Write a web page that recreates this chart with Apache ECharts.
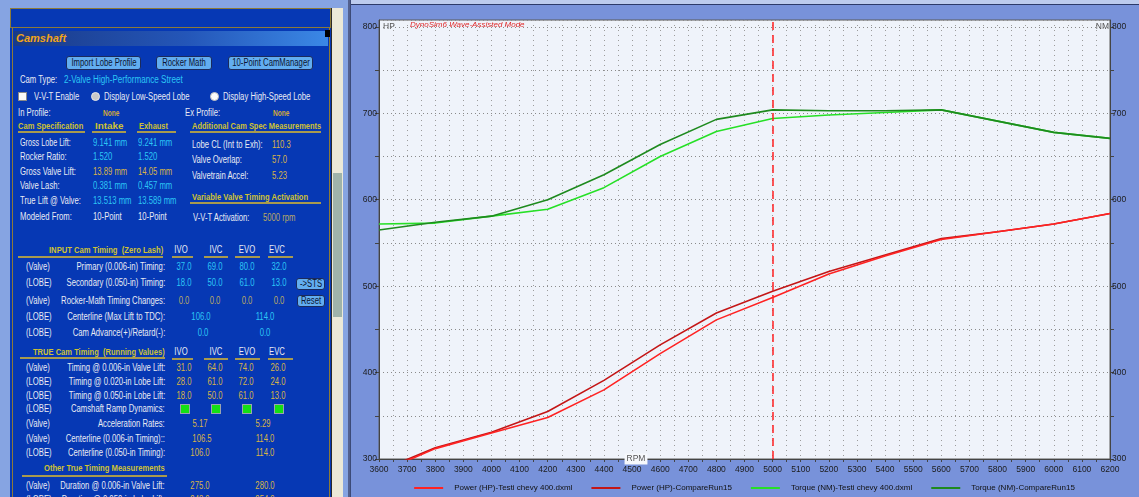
<!DOCTYPE html>
<html>
<head>
<meta charset="utf-8">
<script src="https://cdn.jsdelivr.net/npm/echarts@6/dist/echarts.min.js"></script>
<style>
  html, body { margin: 0; padding: 0; width: 1139px; height: 497px; overflow: hidden; background: #7f9fe0; font-family: 'Liberation Sans', Arial, sans-serif; }
  #panel { position: absolute; left: 0; top: 0; width: 350px; height: 497px; overflow: hidden; background: #86a4e2; }
  #chartWrap { position: absolute; left: 350px; top: 0; width: 789px; height: 497px; background: #7892da; }
  #chart { position: absolute; left: 0; top: 0; width: 789px; height: 497px; }
  .tx { position: absolute; white-space: pre; font-size: 10px; line-height: 14px; height: 14px; }
  .w { color: #e9ebf3; }
  .c { color: #2cc6f6; }
  .g { color: #d8b448; }
  .d { color: #b9a964; }
  .h { color: #cfc232; font-weight: bold; font-size: 9.5px; }
  .n { color: #cfa940; font-weight: bold; font-size: 8.5px; }
  .k { color: #0b1430; }
  .ttl { color: #f2a418; font-weight: bold; font-style: italic; font-size: 11px; }
</style>
</head>
<body>
<div id="panel"></div>
<div id="chartWrap">
  <div id="chart"></div>
  <div style="position:absolute;left:0;top:0;width:789px;height:4px;background:#bccbee;z-index:5"></div>
  <div style="position:absolute;left:0;top:4px;width:789px;height:1px;background:#2c3a6a;z-index:5"></div>
  <div style="position:absolute;left:0;top:0;width:1px;height:497px;background:#3c4a78;z-index:5"></div>
</div>
<script>
// ---------- dyno curves ----------
const rpm = [3600, 3800, 4000, 4200, 4400, 4600, 4800, 5000, 5200, 5400, 5600, 5800, 6000, 6200];
const powerTesti = [284, 312, 330, 348, 380, 422, 461, 487, 514, 535, 554, 563, 572, 584];
const powerCompare = [286, 313, 331, 355, 391, 432, 469, 494, 517, 536, 555, 563, 572, 584];
const torqueTesti = [572, 573, 581, 589, 614, 650, 679, 694, 698, 701, 704, 691, 678, 671];
const torqueCompare = [565, 574, 581, 600, 629, 664, 693, 704, 703, 703, 704, 691, 678, 671];
const seriesNames = ['Power (HP)-Testi chevy 400.dxml', 'Power (HP)-CompareRun15',
                     'Torque (NM)-Testi chevy 400.dxml', 'Torque (NM)-CompareRun15'];
const cursorRpm = 5000;
const rpmRange = [3600, 6200];
const valueRange = [300, 808];
const valueLabelMax = 800;

// ---------- camshaft panel ----------
const PW = 350;
const P = document.getElementById('panel');
function box(x, y, w, h, css) {
  const d = document.createElement('div');
  d.style.cssText = 'position:absolute;left:' + x + 'px;top:' + y + 'px;width:' + w + 'px;height:' + h + 'px;' + (css || '');
  P.appendChild(d);
  return d;
}
function txt(x, y, s, cls, align, w) {
  const d = document.createElement('div');
  d.className = 'tx ' + (cls || 'w');
  d.textContent = s;
  d.style.top = (y - 7) + 'px';
  P.appendChild(d);
  let sc = 0.77;
  if (cls === 'ttl') sc = 1;
  if (w) sc = w / d.offsetWidth;
  if (align === 'r') {
    d.style.right = (PW - x) + 'px';
    d.style.transformOrigin = '100% 50%';
    d.style.transform = 'scaleX(' + sc + ')';
  } else if (align === 'c') {
    d.style.left = x + 'px';
    d.style.transformOrigin = '0 50%';
    d.style.transform = 'scaleX(' + sc + ') translateX(-50%)';
  } else {
    d.style.left = x + 'px';
    d.style.transformOrigin = '0 50%';
    d.style.transform = 'scaleX(' + sc + ')';
  }
}
function uline(x1, x2, y) { box(x1, y, x2 - x1, 2, 'background:#a89a4e;'); }
function btn(x, y, w, h, s) {
  box(x, y, w, h, 'background:#62adf0;border:1px solid #1b2a5c;border-radius:3px;box-sizing:border-box;');
  txt(x + w / 2, y + h / 2, s, 'k', 'c');
}
function led(cx, cy) { box(cx - 5, cy - 5, 10, 10, 'background:#14e014;border:1px solid #9aa4b0;box-sizing:border-box;'); }

// frame
box(10, 8, 321, 489, 'background:#0638b4;');
box(10, 8, 321, 20, 'border:1px solid #8c7a38;box-sizing:border-box;');
box(12, 28, 1, 469, 'background:#8c7a38;');
box(329, 28, 1, 469, 'background:#8c7a38;');
box(14, 31, 314, 15, 'background:linear-gradient(to right,#1a3a88 0%,#2456b8 55%,#3b88e6 100%);');
box(325, 30, 5, 7, 'background:#000;');
// scrollbar
box(331, 8, 1, 489, 'background:#2a2a2a;');
box(332, 8, 11, 489, 'background:#ece9d8;');
box(333, 173, 9, 144, 'background:#9fb3aa;');
box(348, 0, 2, 497, 'background:#52608e;');

txt(16, 38, 'Camshaft', 'ttl');
btn(66, 56, 75, 14, 'Import Lobe Profile');
btn(156, 56, 56, 14, 'Rocker Math');
btn(228, 56, 85, 14, '10-Point CamManager');

txt(20, 80, 'Cam Type:', 'w');
txt(64, 80, '2-Valve High-Performance Street', 'c', 'l', 119);
box(18, 92, 9, 9, 'background:#f8f8f8;border:1px solid #8a8a8a;box-sizing:border-box;');
txt(34, 97, 'V-V-T Enable', 'w');
box(91, 92, 9, 9, 'background:#c8c8c8;border-radius:50%;border:1px solid #e8e8e8;box-sizing:border-box;');
txt(104, 97, 'Display Low-Speed Lobe', 'w');
box(210, 92, 9, 9, 'background:#fafafa;border-radius:50%;border:1px solid #c0c0c0;box-sizing:border-box;');
txt(223, 97, 'Display High-Speed Lobe', 'w');

txt(18, 113, 'In Profile:', 'w');
txt(103, 113, 'None', 'n');
txt(185, 113, 'Ex Profile:', 'w');
txt(273, 113, 'None', 'n');

txt(18, 126, 'Cam Specification', 'h', 'l', 65);
txt(95, 126, 'Intake', 'h', 'l', 28);
txt(139, 126, 'Exhaust', 'h', 'l', 29);
txt(192, 126, 'Additional Cam Spec Measurements', 'h', 'l', 129);
uline(18, 85, 131); uline(92, 126, 131); uline(137, 176, 131); uline(190, 321, 131);

txt(20, 143, 'Gross Lobe Lift:', 'w', 'l', 51);
txt(93, 143, '9.141 mm', 'c');
txt(138, 143, '9.241 mm', 'c');
txt(192, 145, 'Lobe CL (Int to Exh):', 'w');
txt(272, 145, '110.3', 'g');

txt(20, 157, 'Rocker Ratio:', 'w');
txt(93, 157, '1.520', 'c');
txt(138, 157, '1.520', 'c');
txt(192, 160, 'Valve Overlap:', 'w');
txt(272, 160, '57.0', 'g');

txt(20, 172, 'Gross Valve Lift:', 'w');
txt(93, 172, '13.89 mm', 'g');
txt(138, 172, '14.05 mm', 'g');
txt(192, 176, 'Valvetrain Accel:', 'w');
txt(272, 176, '5.23', 'g');

txt(20, 186, 'Valve Lash:', 'w');
txt(93, 186, '0.381 mm', 'c');
txt(138, 186, '0.457 mm', 'c');

txt(20, 201, 'True Lift @ Valve:', 'w');
txt(93, 201, '13.513 mm', 'c');
txt(138, 201, '13.589 mm', 'c');
txt(192, 197, 'Variable Valve Timing Activation', 'h', 'l', 116);
uline(190, 321, 202);

txt(20, 217, 'Modeled From:', 'w');
txt(93, 217, '10-Point', 'w');
txt(138, 217, '10-Point', 'w');
txt(193, 218, 'V-V-T Activation:', 'w');
txt(263, 218, '5000 rpm', 'd');

// INPUT cam timing block
const colA = [184, 215, 247, 279];
const colB = [201, 265];
function heads(y) {
  txt(181, y, 'IVO', 'w', 'c'); txt(216, y, 'IVC', 'w', 'c');
  txt(247, y, 'EVO', 'w', 'c'); txt(277, y, 'EVC', 'w', 'c');
  uline(172, 193, y + 6); uline(204, 228, y + 6); uline(235, 260, y + 6); uline(268, 293, y + 6);
}
function row(y, tag, label, vals, cls, cols) {
  txt(26, y, tag, 'w');
  txt(165, y, label, 'w', 'r');
  vals.forEach(function (v, i) { txt(cols[i], y, v, cls, 'c'); });
}
txt(49, 250, 'INPUT Cam Timing  (Zero Lash)', 'h', 'l', 114);
uline(18, 163, 256);
heads(250);
row(267, '(Valve)', 'Primary (0.006-in) Timing:', ['37.0', '69.0', '80.0', '32.0'], 'c', colA);
row(283, '(LOBE)', 'Secondary (0.050-in) Timing:', ['18.0', '50.0', '61.0', '13.0'], 'c', colA);
btn(296, 278, 29, 12, '->STS');
row(301, '(Valve)', 'Rocker-Math Timing Changes:', ['0.0', '0.0', '0.0', '0.0'], 'd', colA);
btn(297, 295, 28, 12, 'Reset');
row(317, '(LOBE)', 'Centerline (Max Lift to TDC):', ['106.0', '114.0'], 'c', colB);
row(333, '(LOBE)', 'Cam Advance(+)/Retard(-):', ['0.0', '0.0'], 'c', [203, 265]);

// TRUE cam timing block
txt(33, 352, 'TRUE Cam Timing  (Running Values)', 'h', 'l', 132);
uline(20, 165, 357);
heads(352);
const colC = [184, 215, 246, 278];
row(368, '(Valve)', 'Timing @ 0.006-in Valve Lift:', ['31.0', '64.0', '74.0', '26.0'], 'g', colC);
row(382, '(LOBE)', 'Timing @ 0.020-in Lobe Lift:', ['28.0', '61.0', '72.0', '24.0'], 'g', colC);
row(396, '(LOBE)', 'Timing @ 0.050-in Lobe Lift:', ['18.0', '50.0', '61.0', '13.0'], 'g', colC);
row(409, '(LOBE)', 'Camshaft Ramp Dynamics:', [], 'g', colC);
colC.forEach(function (cx) { led(cx + 1, 409); });
row(424, '(Valve)', 'Acceleration Rates:', ['5.17', '5.29'], 'g', [200, 263]);
row(439, '(Valve)', 'Centerline (0.006-in Timing)::', ['106.5', '114.0'], 'g', [202, 265]);
row(453, '(LOBE)', 'Centerline (0.050-in Timing):', ['106.0', '114.0'], 'g', [200, 265]);
txt(44, 468, 'Other True Timing Measurements', 'h', 'l', 121);
uline(22, 167, 475);
row(486, '(Valve)', 'Duration @ 0.006-in Valve Lift:', ['275.0', '280.0'], 'g', [200, 265]);
row(500, '(LOBE)', 'Duration @ 0.050-in Lobe Lift:', ['248.0', '254.0'], 'g', [200, 265]);

// ---------- dyno chart ----------
const chart = echarts.init(document.getElementById('chart'), null, { renderer: 'canvas' });
const pairs = function (vals) { return rpm.map(function (r, i) { return [r, vals[i]]; }); };
const dotted = { type: [1, 4], color: '#9c9c9c', width: 1 };
const tickFont = { fontSize: 8.5, color: '#1c1c1c', fontFamily: 'Liberation Sans, Arial, sans-serif' };
const yLabel = function (v) { return (v % 100 === 0 && v <= valueLabelMax) ? String(v) : ''; };
const lineSeries = function (name, vals, color, axis) {
  return {
    name: name, type: 'line', yAxisIndex: axis, data: pairs(vals),
    showSymbol: false, symbol: 'none', clip: true,
    lineStyle: { color: color, width: 1.6 }, itemStyle: { color: color }
  };
};
const sPowerCompare = lineSeries(seriesNames[1], powerCompare, '#c41616', 0);
const sPowerTesti = lineSeries(seriesNames[0], powerTesti, '#ff2222', 0);
sPowerTesti.markLine = {
  symbol: 'none', silent: true, label: { show: false },
  lineStyle: { color: '#ff2020', type: [8, 5], width: 1.5 },
  data: [{ xAxis: cursorRpm }]
};

chart.setOption({
  animation: false,
  grid: { left: 29, right: 29, top: 20, bottom: 38, show: true,
          backgroundColor: '#eff3fa', borderColor: '#5a5a5a', borderWidth: 1 },
  xAxis: {
    type: 'value', min: rpmRange[0], max: rpmRange[1], interval: 50,
    axisLine: { lineStyle: { color: '#444' } },
    axisTick: { length: 3, lineStyle: { color: '#444' } },
    axisLabel: Object.assign({ margin: 6, formatter: function (v) { return v % 100 === 0 ? String(v) : ''; } }, tickFont),
    splitLine: { show: true, lineStyle: dotted }
  },
  yAxis: [
    {
      type: 'value', position: 'left', min: valueRange[0], max: valueRange[1], interval: 50,
      axisLine: { show: true, lineStyle: { color: '#444' } },
      axisTick: { show: true, length: 4, lineStyle: { color: '#444' } },
      axisLabel: Object.assign({ margin: 2, formatter: yLabel, showMaxLabel: false }, tickFont),
      splitLine: { show: true, lineStyle: { type: [1, 3], color: '#8a8a8a', width: 1 } }
    },
    {
      type: 'value', position: 'right', min: valueRange[0], max: valueRange[1], interval: 50,
      axisLine: { show: true, lineStyle: { color: '#444' } },
      axisTick: { show: true, length: 4, lineStyle: { color: '#444' } },
      axisLabel: Object.assign({ margin: 2, formatter: yLabel, showMaxLabel: false }, tickFont),
      splitLine: { show: false }
    }
  ],
  legend: {
    data: seriesNames, top: 484, left: 'center', padding: 0,
    icon: 'rect', itemWidth: 29, itemHeight: 2, itemGap: 19,
    textStyle: { fontSize: 8, color: '#111', fontFamily: 'Liberation Sans, Arial, sans-serif', padding: [0, 0, 0, 6] }
  },
  series: [
    sPowerCompare,
    sPowerTesti,
    lineSeries(seriesNames[2], torqueTesti, '#26e026', 1),
    lineSeries(seriesNames[3], torqueCompare, '#1e8a1e', 1)
  ],
  graphic: [
    { type: 'text', x: 33, y: 27, z: 100, style: { text: 'HP', fill: '#555', font: '8.5px Liberation Sans, Arial', verticalAlign: 'middle' } },
    { type: 'text', x: 60, y: 25, z: 100, style: { text: 'DynoSim6 Wave-Assisted Mode', fill: '#e02a2a', font: 'italic 8px Liberation Sans, Arial', verticalAlign: 'middle' } },
    { type: 'text', x: 759, y: 27, z: 100, style: { text: 'NM', fill: '#555', font: '8.5px Liberation Sans, Arial', align: 'right', verticalAlign: 'middle' } },
    { type: 'text', x: 286, y: 459, z: 100, style: { text: 'RPM', fill: '#555', font: '8.5px Liberation Sans, Arial', align: 'center', verticalAlign: 'middle', backgroundColor: '#f6f8fc', padding: [1, 2] } }
  ]
});
</script>
</body>
</html>
